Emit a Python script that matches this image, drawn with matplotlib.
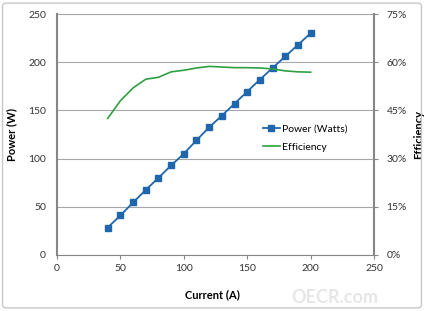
import matplotlib.pyplot as plt
from matplotlib.patches import FancyBboxPatch
from matplotlib.ticker import FuncFormatter

# Data
current = [40, 50, 60, 70, 80, 90, 100, 110, 120, 130, 140, 150, 160, 170, 180, 190, 200]
power_w = [28.5, 41, 54.5, 67.5, 80, 93, 105, 119, 132.5, 144.5, 157, 169.5, 182, 194, 206, 218, 230]
efficiency = [42.5, 48, 52, 54.7, 55.3, 57, 57.5, 58.2, 58.7, 58.5, 58.3, 58.3, 58.2, 57.9, 57.3, 57.0, 56.9]

x_ticks = [0, 50, 100, 150, 200, 250]
y_ticks = [0, 50, 100, 150, 200, 250]
eff_ticks = [0, 15, 30, 45, 60, 75]

blue = "#1f66ad"
green = "#2ea043"
axis_gray = "#868686"
plt.rcParams['font.family'] = ['Lato', 'DejaVu Sans']

fig = plt.figure(figsize=(4.24, 3.11), dpi=100)
fig.patches.append(FancyBboxPatch((0.006, 0.01), 0.988, 0.98, boxstyle="round,pad=0,rounding_size=0.01",
                                  transform=fig.transFigure, fill=False, ec="#c8c8c8", lw=1))

ax = fig.add_axes([57 / 424, 1 - 255 / 311, (374 - 57) / 424, (255 - 14) / 311])
ax.set_xlim(0, 250)
ax.set_ylim(0, 250)
ax.set_xticks(x_ticks)
ax.set_yticks(y_ticks)
ax.grid(axis="y", color="#a6a6a6", lw=0.8)
ax.set_axisbelow(True)
for side in ["top", "right"]:
    ax.spines[side].set_visible(False)
ax.spines["left"].set_color(axis_gray)
ax.spines["left"].set_linewidth(1.5)
ax.spines["bottom"].set_color(axis_gray)
ax.tick_params(axis="both", labelsize=7.5, colors="#333333", length=3, color=axis_gray)
ax.tick_params(axis="y", length=0, pad=8)
ax.set_xlabel("Current (A)", fontsize=8, fontweight="bold")
ax.set_ylabel("Power (W)", fontsize=8, fontweight="bold")
ax.xaxis.set_label_coords(0.49, -0.14)
ax.yaxis.set_label_coords(-0.125, 0.5)

l1, = ax.plot(current, power_w, color=blue, marker="s", markersize=4.5, lw=1.3, label="Power (Watts)")

ax2 = ax.twinx()
ax2.set_ylim(0, 75)
ax2.set_yticks(eff_ticks)
ax2.yaxis.set_major_formatter(FuncFormatter(lambda v, p: f"{v:.0f}%"))
for side in ["top", "left", "bottom"]:
    ax2.spines[side].set_visible(False)
ax2.spines["right"].set_color(axis_gray)
ax2.spines["right"].set_linewidth(1.5)
ax2.tick_params(axis="y", labelsize=7.5, colors="#333333", length=3, color=axis_gray, pad=6)
ax2.set_ylabel("Efficiency", fontsize=8, fontweight="bold")
ax2.yaxis.set_label_coords(1.123, 0.5)

l2, = ax2.plot(current, efficiency, color=green, lw=1.2, label="Efficiency")

ax.legend(handles=[l1, l2], loc="upper left", bbox_to_anchor=(0.62, 0.58), frameon=False,
          fontsize=7.5, handlelength=1.6, handletextpad=0.2, labelspacing=0.8)

fig.text(0.79, 0.045, "OECR.com", fontsize=13, fontweight="bold", color="#e6e6e6", ha="center", va="center")

fig.savefig("out.png", dpi=100)
